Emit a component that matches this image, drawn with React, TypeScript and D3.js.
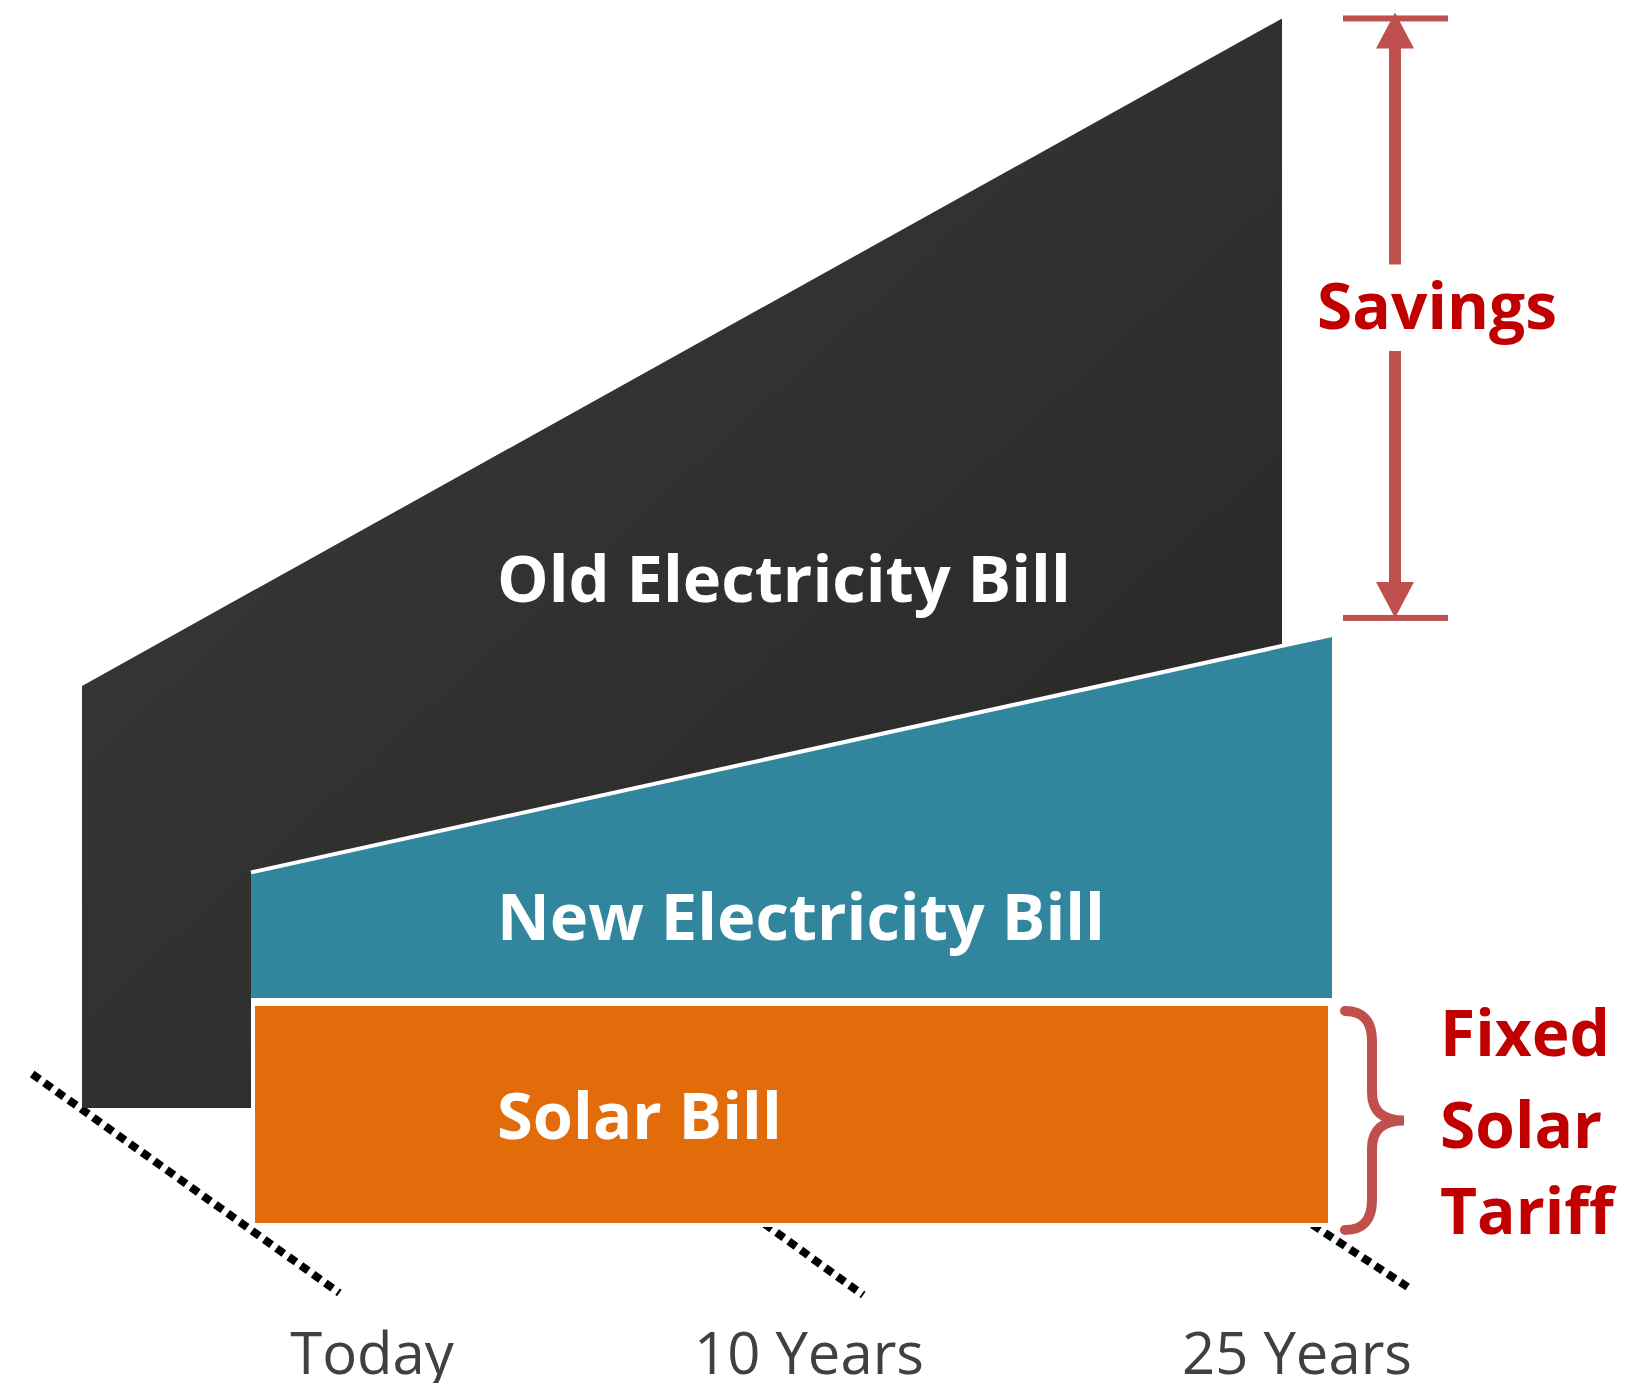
import React from 'react'
import * as d3 from 'd3'

// years along the timeline
const years = [0, 25]
// bill levels (arbitrary units, solar bill = 100)
const oldBill = [191, 493]
const newBill = [160, 267]
const solarBill = [100, 100]

const categories = ['Today', '10 Years', '25 Years']

const W = 1651
const H = 1383

const FONT = "'Open Sans', 'Noto Sans', sans-serif"
const RED = '#C00000'
const ARROW = '#C0504D'

export default function App() {
  // front layer (new bill + solar) and the layer set back behind it
  const xFront = d3.scaleLinear().domain([0, 25]).range([251, 1332])
  const xBack = d3.scaleLinear().domain([0, 25]).range([82, 1282])
  const yFront = d3.scaleLinear().domain([0, 100]).range([1225, 1004])
  const yBack = d3.scaleLinear().domain([0, 100]).range([1108, 887])

  // ground lines and labels for each category
  const labelX = d3.scaleOrdinal<string, number>().domain(categories).range([372, 809, 1297])
  const groundX = d3.scaleOrdinal<string, number>().domain(categories).range([244, 766, 1313])
  const groundBack = d3.scaleOrdinal<string, number>().domain(categories).range([1074, 1180, 1200])
  const groundFront = d3.scaleOrdinal<string, number>().domain(categories).range([1293, 1295, 1287])
  const groundSlope = d3.scaleOrdinal<string, number>().domain(categories).range([0.713, 0.72, 0.655])

  const baseY = yFront(0)

  const line = d3.line<[number, number]>()

  // old bill (dark) shape
  const teal0: [number, number] = [xFront(years[0]), yFront(newBill[0])]
  const teal1: [number, number] = [xFront(years[1]), yFront(newBill[1])]
  const darkPts: [number, number][] = [
    [xBack(years[0]), yBack(oldBill[0])],
    [xBack(years[1]), yBack(oldBill[1])],
    [xBack(years[1]), teal1[1] + 22],
    [teal0[0], teal0[1] + 2],
    [teal0[0], yBack(0)],
    [xBack(years[0]), yBack(0)],
  ]

  const solarTop = yFront(solarBill[0])

  const area = d3
    .area<number>()
    .x((_, i) => xFront(years[i]))
    .y0((_, i) => yFront(solarBill[i]) - 6)
    .y1((d) => yFront(d))

  // savings arrow geometry
  const ax = 1395
  const aTop = yBack(oldBill[1])
  const aEnd = yFront(newBill[1]) - 17
  const head = 36
  const headW = 19

  // brace geometry
  const bx = 1345
  const bTop = solarTop + 7
  const bBot = baseY + 5
  const bMid = (bTop + bBot) / 2
  const bIn = bx + 27
  const bTip = bx + 59
  const brace = `M ${bx} ${bTop} Q ${bIn} ${bTop} ${bIn} ${bTop + 30} L ${bIn} ${bMid - 28} Q ${bIn} ${bMid} ${bTip} ${bMid} Q ${bIn} ${bMid} ${bIn} ${bMid + 28} L ${bIn} ${bBot - 30} Q ${bIn} ${bBot} ${bx} ${bBot}`

  return (
    <svg width={W} height={H} style={{ position: 'absolute', left: 0, top: 0 }}>
      <defs>
        <linearGradient id="darkGrad" x1="0" y1="0" x2="1" y2="1">
          <stop offset="0%" stopColor="#3b3b3b" />
          <stop offset="100%" stopColor="#262626" />
        </linearGradient>
      </defs>
      <rect width={W} height={H} fill="#fff" />

      {/* perspective ground lines */}
      {categories.map((c) => {
        const s = groundSlope(c)
        const x0 = groundX(c) - (baseY - groundBack(c)) / s
        const x1 = groundX(c) + (groundFront(c) - baseY) / s
        return (
          <line
            key={c}
            x1={x0}
            y1={groundBack(c)}
            x2={x1}
            y2={groundFront(c)}
            stroke="#000"
            strokeWidth={8}
            strokeDasharray="9 6"
          />
        )
      })}

      {/* old electricity bill */}
      <path d={line(darkPts) + 'Z'} fill="url(#darkGrad)" />

      {/* new electricity bill */}
      <path d={area(newBill) || ''} fill="#31869D" />
      <path d={line([[teal0[0], teal0[1] + 1], teal1]) || ''} stroke="#fff" strokeWidth={4} fill="none" />

      {/* solar bill */}
      <rect
        x={xFront(years[0]) + 2}
        y={solarTop}
        width={xFront(years[1]) - xFront(years[0]) - 4}
        height={baseY - solarTop}
        fill="#E36C0A"
        stroke="#fff"
        strokeWidth={4}
      />

      <g fontFamily={FONT} fontWeight={700} fill="#fff" fontSize={65}>
        <text x={497} y={602}>Old Electricity Bill</text>
        <text x={497} y={940}>New Electricity Bill</text>
        <text x={497} y={1139}>Solar Bill</text>
      </g>

      {/* savings arrow */}
      <g fill={ARROW} stroke="none">
        <rect x={ax - 52} y={aTop - 3} width={105} height={6} />
        <rect x={ax - 52} y={aEnd - 3} width={105} height={6} />
        <path d={`M ${ax} ${aTop - 6} L ${ax + headW} ${aTop - 6 + head} L ${ax - headW} ${aTop - 6 + head} Z`} />
        <path d={`M ${ax} ${aEnd} L ${ax + headW} ${aEnd - head} L ${ax - headW} ${aEnd - head} Z`} />
        <rect x={ax - 6} y={aTop + 26} width={12} height={220} />
        <rect x={ax - 6} y={351} width={12} height={aEnd - head + 2 - 351} />
      </g>
      <text x={1437} y={329} textAnchor="middle" fontFamily={FONT} fontWeight={700} fontSize={64} fill={RED}>
        Savings
      </text>

      {/* fixed tariff brace */}
      <path d={brace} fill="none" stroke={ARROW} strokeWidth={10} strokeLinecap="round" />
      <g fontFamily={FONT} fontWeight={700} fontSize={64} fill={RED}>
        <text x={1440} y={1056}>Fixed</text>
        <text x={1440} y={1148}>Solar</text>
        <text x={1440} y={1234}>Tariff</text>
      </g>

      {/* category labels */}
      <g fontFamily={FONT} fontSize={58} fill="#404040" textAnchor="middle">
        {categories.map((c) => (
          <text key={c} x={labelX(c)} y={1374}>
            {c}
          </text>
        ))}
      </g>
    </svg>
  )
}
